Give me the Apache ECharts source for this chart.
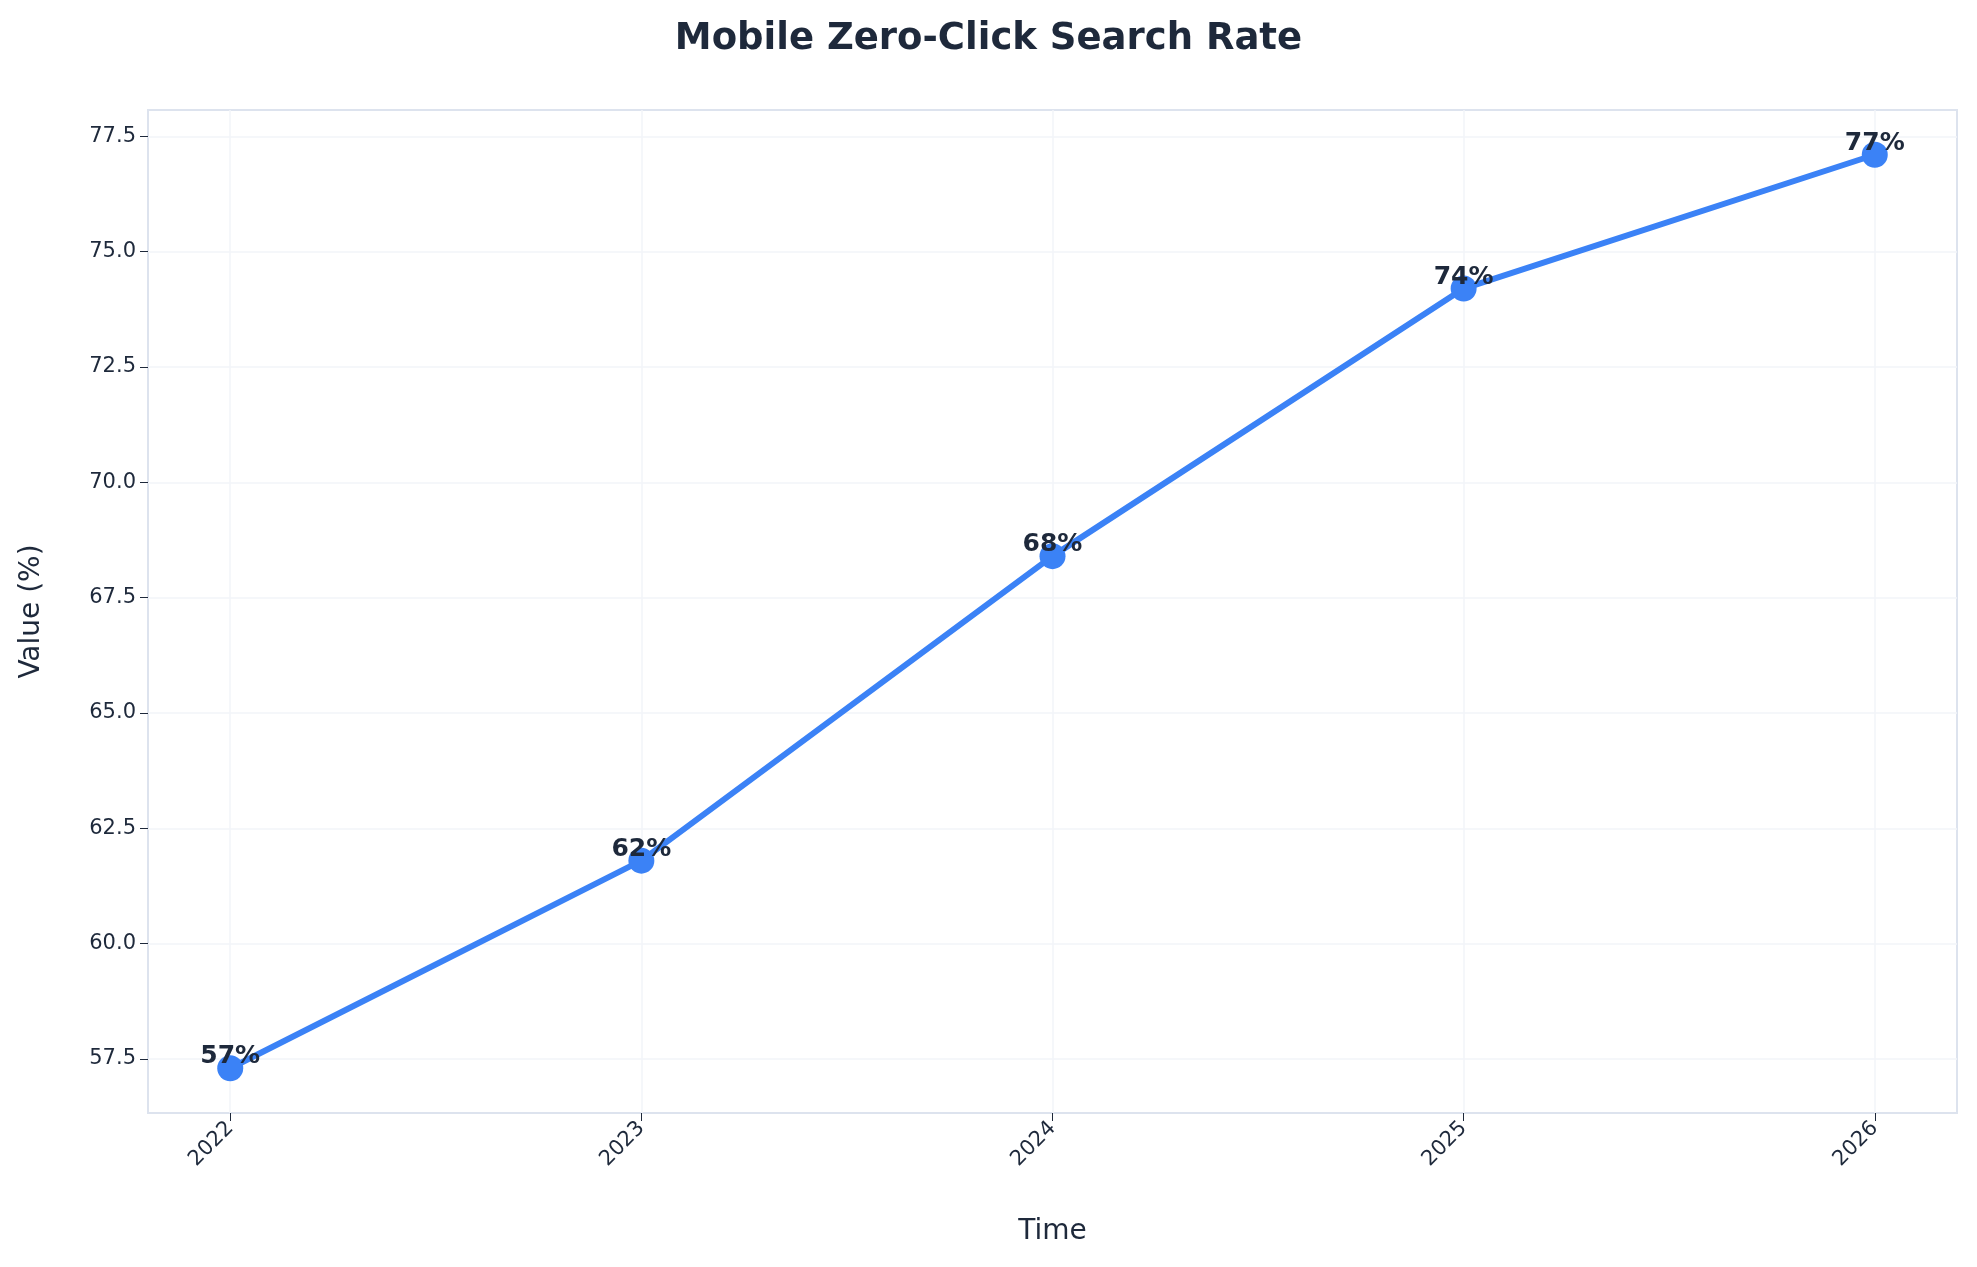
<!DOCTYPE html>
<html>
<head>
<meta charset="utf-8">
<script src="https://cdn.jsdelivr.net/npm/echarts@6/dist/echarts.min.js"></script>
<style>html,body{margin:0;padding:0;background:#fff}#main{width:1977px;height:1267px}</style>
</head>
<body>
<div id="main"></div>
<script>
// data
var years = [2022, 2023, 2024, 2025, 2026];
var values = [57.3, 61.8, 68.4, 74.2, 77.1];
var yTicks = [57.5, 60.0, 62.5, 65.0, 67.5, 70.0, 72.5, 75.0, 77.5];

var chart = echarts.init(document.getElementById('main'));
var txt = '#1e293b';
var font = 'DejaVu Sans';

var points = [];
for (var i = 0; i < years.length; i++) {
  points.push([years[i], values[i]]);
}
// faint grid lines drawn at the tick positions
var gridLines = [];
for (var i = 0; i < yTicks.length; i++) gridLines.push({ yAxis: yTicks[i] });
for (var i = 0; i < years.length; i++) gridLines.push({ xAxis: years[i] });

var option = {
  backgroundColor: '#ffffff',
  textStyle: { fontFamily: font },
  title: {
    text: 'Mobile Zero-Click Search Rate',
    left: 'center',
    top: 16,
    textStyle: { fontFamily: font, fontSize: 37, fontWeight: 'bold', color: txt }
  },
  grid: {
    left: 148, right: 20, top: 110, bottom: 154,
    show: true, borderColor: '#dde3ee', borderWidth: 2
  },
  xAxis: {
    type: 'value',
    min: 2021.8, max: 2026.2,
    name: 'Time',
    nameLocation: 'middle',
    nameGap: 105,
    nameTextStyle: { fontSize: 28, color: txt },
    axisLine: { show: false },
    splitLine: { show: false },
    axisTick: { show: true, customValues: years, length: 8, lineStyle: { color: txt } },
    axisLabel: {
      customValues: years, rotate: 45, fontSize: 21, color: txt, margin: 12,
      formatter: function (v) { return String(v); }
    }
  },
  yAxis: {
    type: 'value',
    min: 56.33, max: 78.07,
    name: 'Value (%)',
    nameLocation: 'middle',
    nameGap: 102,
    nameTextStyle: { fontSize: 28, color: txt },
    axisLine: { show: false },
    splitLine: { show: false },
    axisTick: { show: true, customValues: yTicks, length: 8, lineStyle: { color: txt } },
    axisLabel: {
      customValues: yTicks, fontSize: 21, color: txt, margin: 12,
      formatter: function (v) { return v.toFixed(1); }
    }
  },
  series: [{
    type: 'line',
    data: points,
    color: '#3b82f6',
    lineStyle: { width: 6, color: '#3b82f6' },
    symbol: 'circle',
    symbolSize: 26,
    itemStyle: { color: '#3b82f6' },
    label: {
      show: true, position: 'top', distance: -14,
      fontSize: 25, fontWeight: 'bold', color: txt,
      formatter: function (p) { return Math.round(p.value[1]) + '%'; }
    },
    markLine: {
      silent: true, symbol: 'none', label: { show: false },
      lineStyle: { color: '#f2f4f8', width: 1.5, type: 'solid' },
      data: gridLines,
      z: 0
    },
    animation: false
  }]
};
chart.setOption(option);
window.addEventListener('resize', function () { chart.resize(); });
</script>
</body>
</html>
